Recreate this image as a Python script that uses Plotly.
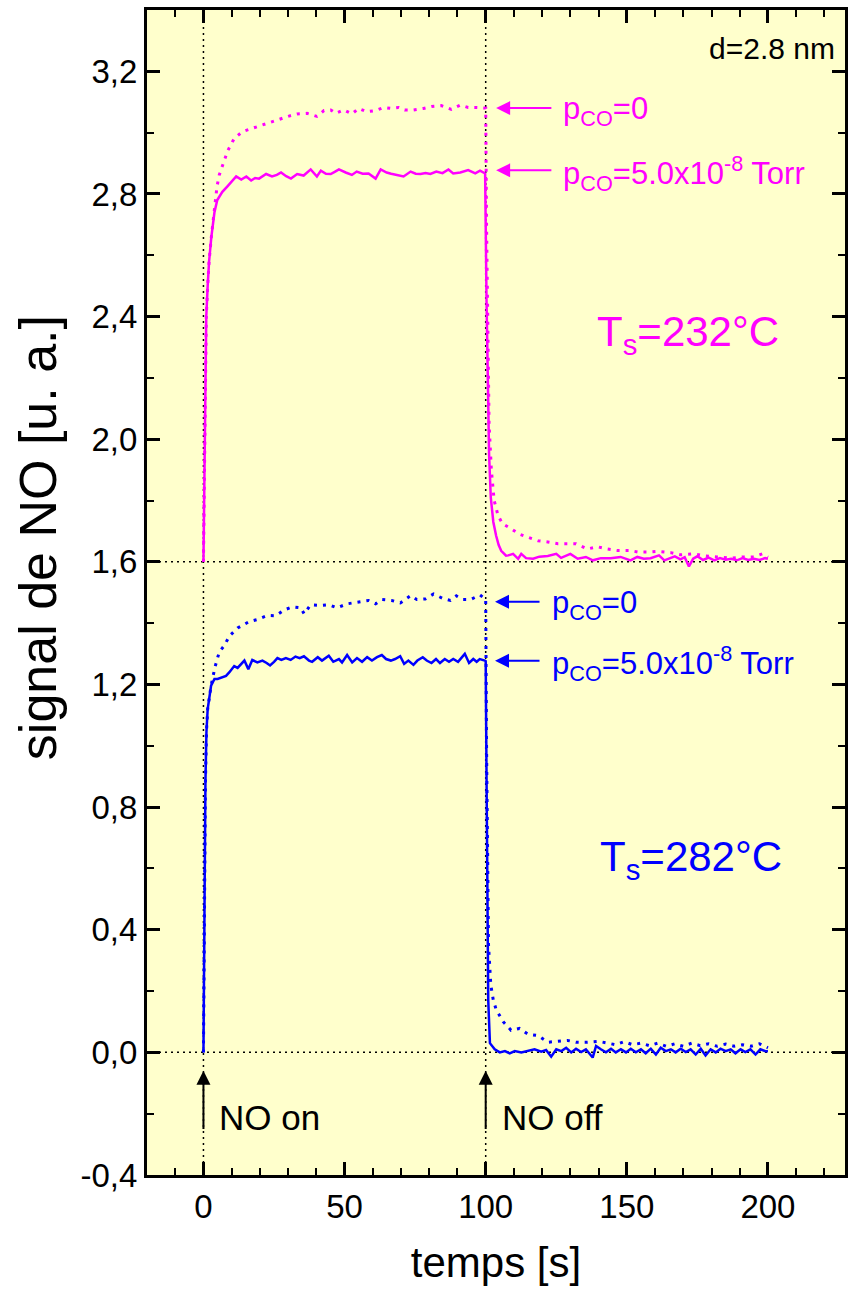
import plotly.graph_objects as go

# ---------------- data ----------------
# magenta, T_s = 232 °C, p_CO = 5.0x10^-8 Torr (solid)
t_mag_co = [0, 0.3, 0.6, 1.0, 1.5, 2.0, 2.8, 3.9, 4.9, 6.7, 8.5, 10, 11.6, 13.4, 15.2, 16.9, 18.3,
            19.7, 21, 22.2, 24.3, 26, 27.5, 29.3, 31, 33.2, 35.5, 38, 40.2, 41.6, 43.4, 45.1, 46.5,
            48, 50.4, 52.6, 54.3, 56.4, 58.5, 61, 62.8, 64.9, 66.5, 68.1, 70.9, 73.4, 75.2, 76.9,
            78.7, 80.4, 82.5, 84.7, 86.8, 88.5, 91, 93.8, 96.3, 98, 99.8,
            100.3, 100.7, 101.2, 101.8, 102.7, 103.7, 104.6, 105.5, 107.2, 108, 109.7, 111.5, 112.6,
            114.3, 116.8, 119, 122, 125, 126.7, 130, 132.6, 135.5, 138, 140.8, 144.3, 147.8, 151.3,
            153.7, 156, 158.4, 161.4, 163.3, 165, 167, 169, 170.5, 172, 173.5, 175, 177, 179, 181,
            183, 185, 187, 189, 191, 193, 195, 197, 199, 200]
s_mag_co = [1.6, 1.9, 2.2, 2.4, 2.5, 2.58, 2.66, 2.74, 2.78, 2.807, 2.825, 2.84, 2.857, 2.847, 2.857,
            2.844, 2.852, 2.85, 2.858, 2.865, 2.857, 2.862, 2.87, 2.858, 2.85, 2.865, 2.86, 2.88,
            2.857, 2.876, 2.866, 2.865, 2.872, 2.88, 2.87, 2.862, 2.873, 2.866, 2.867, 2.85, 2.88,
            2.87, 2.866, 2.862, 2.857, 2.873, 2.866, 2.865, 2.868, 2.865, 2.873, 2.868, 2.88, 2.867,
            2.87, 2.878, 2.867, 2.876, 2.867,
            2.45, 2.15, 1.95, 1.81, 1.73, 1.685, 1.655, 1.636, 1.62, 1.621, 1.626, 1.61, 1.626,
            1.612, 1.61, 1.617, 1.619, 1.626, 1.613, 1.626, 1.61, 1.616, 1.605, 1.612, 1.612, 1.616,
            1.605, 1.616, 1.61, 1.612, 1.621, 1.605, 1.612, 1.618, 1.608, 1.615, 1.585, 1.61, 1.618,
            1.606, 1.614, 1.605, 1.612, 1.607, 1.61, 1.605, 1.612, 1.606, 1.61, 1.606, 1.612, 1.61]

# magenta, p_CO = 0 (dotted)
t_mag_0 = [0, 0.3, 0.6, 1.0, 1.5, 2.0, 2.8, 3.9, 4.8, 5.6, 7.2, 8.6, 10.9, 13.8, 17.3, 20.8, 24,
           27.5, 30.3, 33.2, 36.7, 40.2, 42.7, 45.1, 46.9, 49.7, 52.6, 55, 57.8, 61, 63.8, 66.3,
           69.1, 71.3, 74.4, 78, 80.8, 84.3, 87.8, 91, 93.8, 96.7, 99.1, 100.0,
           100.3, 100.7, 101.2, 102, 103, 104.4, 106, 109, 112, 115, 118.5, 122, 125.6, 129, 132,
           136, 139.7, 143, 146.7, 151, 154, 158, 161, 165.6, 169, 173.8, 177, 182, 186.7, 191.4,
           195, 198, 200]
s_mag_0 = [1.6, 1.9, 2.2, 2.4, 2.5, 2.58, 2.66, 2.74, 2.824, 2.862, 2.902, 2.941, 2.981, 3.003,
           3.014, 3.025, 3.036, 3.047, 3.054, 3.061, 3.063, 3.053, 3.072, 3.074, 3.063, 3.074,
           3.061, 3.079, 3.068, 3.072, 3.082, 3.079, 3.082, 3.074, 3.074, 3.079, 3.085, 3.088,
           3.076, 3.09, 3.082, 3.082, 3.082, 3.08,
           2.7, 2.35, 2.05, 1.9, 1.8, 1.75, 1.724, 1.708, 1.69, 1.68, 1.669, 1.665, 1.659, 1.659,
           1.659, 1.642, 1.649, 1.642, 1.637, 1.637, 1.632, 1.632, 1.634, 1.63, 1.623, 1.626, 1.62,
           1.616, 1.612, 1.616, 1.616, 1.626, 1.615]

# blue, T_s = 282 °C, p_CO = 5.0x10^-8 Torr (solid)
t_blue_co = [0, 0.35, 0.7, 1.06, 1.5, 2.7, 3.9, 5.0, 6.7, 8.0, 9.2, 10.9, 12.1, 13.3, 14.5, 15.9,
             17.3, 19.1, 20.9, 22.4, 23.6, 25, 26.2, 27.6, 29.2, 30.9, 32.6, 34.1, 35.6, 37.4, 38.5,
             40.5, 42, 44.4, 46, 48, 49.1, 50.9, 52.7, 54.4, 56.2, 58, 59.7, 61.5, 63.2, 64.7, 66.4,
             67.9, 69.7, 71.1, 72.6, 74.4, 75.8, 77.7, 79.1, 80.8, 82.4, 83.8, 85.5, 87, 88.5, 90.2,
             92.6, 94.1, 95.6, 96.8, 97.9, 99.7, 100.0,
             100.3, 100.6, 100.9, 101.5, 103.2, 105, 106.8, 108.5, 110.3, 112.6, 115, 117.3, 119.7,
             121.4, 123.2, 125, 126.8, 128.5, 130.3, 132, 133.8, 135.5, 137.9, 139.1, 140.8, 142.6,
             144.4, 146.1, 147.9, 149.7, 151.4, 153.2, 155, 156.7, 158.5, 160.3, 162, 163.8, 165.6,
             167.3, 169.1, 170.9, 172.6, 174.4, 176.2, 177.9, 179.7, 181.5, 183.2, 185, 186.8,
             188.5, 190.3, 192, 193.8, 195.6, 197.3, 199.1, 200]
s_blue_co = [0, 0.555, 0.88, 1.045, 1.12, 1.196, 1.218, 1.218, 1.224, 1.228, 1.24, 1.26, 1.254,
             1.265, 1.278, 1.25, 1.28, 1.272, 1.278, 1.27, 1.262, 1.274, 1.286, 1.28, 1.286, 1.28,
             1.291, 1.286, 1.292, 1.278, 1.274, 1.289, 1.278, 1.294, 1.274, 1.283, 1.272, 1.296,
             1.272, 1.286, 1.274, 1.289, 1.278, 1.289, 1.296, 1.283, 1.278, 1.283, 1.292, 1.267,
             1.278, 1.264, 1.278, 1.289, 1.278, 1.27, 1.283, 1.27, 1.283, 1.274, 1.283, 1.274, 1.3,
             1.27, 1.283, 1.274, 1.283, 1.278, 1.276,
             0.9, 0.45, 0.17, 0.03, 0.01, 0.0, 0.004, -0.003, 0.004, 0.0, 0.004, 0.01, 0.002, 0.008,
             -0.014, 0.01, 0.004, 0.015, 0.0, 0.012, 0.001, 0.01, -0.017, 0.021, 0.01, 0.0, 0.012,
             0.0, 0.01, 0.0, 0.012, 0.0, 0.01, -0.003, 0.012, -0.007, 0.015, 0.004, 0.01, 0.0,
             0.012, 0.001, 0.01, -0.007, 0.012, -0.01, 0.01, 0.0, 0.012, 0.004, 0.01, -0.003, 0.01,
             0.001, 0.01, -0.007, 0.01, 0.004, 0.004]

# blue, p_CO = 0 (dotted)
t_blue_0 = [0, 0.35, 0.7, 1.06, 1.5, 2.7, 4.1, 5.6, 7.4, 9.2, 12.1, 16.2, 19.1, 22.6, 25.6, 28.6,
            31.5, 34.5, 35.7, 38, 41.6, 44.5, 47.3, 50.9, 54.3, 58.5, 61, 63.2, 66.7, 69.8, 73.4,
            75.6, 78.6, 81.5, 85, 87.5, 89.6, 92, 94.6, 98, 99.8, 100.0,
            100.3, 100.6, 101, 101.8, 102.7, 103.7, 106.2, 109, 112, 115, 118.5, 122, 125.6, 129,
            132, 136, 140, 143, 146, 149, 152, 155, 158, 161, 164, 167, 170, 173, 176, 179, 182,
            185, 188, 191, 194, 197, 200]
s_blue_0 = [0, 0.555, 0.88, 1.045, 1.12, 1.196, 1.257, 1.306, 1.327, 1.358, 1.384, 1.405, 1.412,
            1.425, 1.424, 1.443, 1.453, 1.45, 1.43, 1.46, 1.458, 1.46, 1.45, 1.463, 1.469, 1.474,
            1.463, 1.477, 1.474, 1.466, 1.49, 1.477, 1.479, 1.495, 1.48, 1.474, 1.489, 1.477, 1.477,
            1.492, 1.479, 1.479,
            1.0, 0.6, 0.35, 0.22, 0.17, 0.14, 0.10, 0.072, 0.078, 0.059, 0.055, 0.033, 0.036,
            0.039, 0.033, 0.033, 0.036, 0.03, 0.025, 0.035, 0.025, 0.03, 0.022, 0.03, 0.02, 0.028,
            0.02, 0.03, 0.022, 0.028, 0.02, 0.027, 0.02, 0.025, 0.02, 0.028, 0.015]

x_ticks = [0, 50, 100, 150, 200]
y_ticks = [-0.4, 0.0, 0.4, 0.8, 1.2, 1.6, 2.0, 2.4, 2.8, 3.2]

MAG = "#FF00FF"
BLUE = "#0000FF"
FONT = "Arial, Liberation Sans, sans-serif"

fig = go.Figure()
fig.add_trace(go.Scatter(x=t_mag_0, y=s_mag_0, mode="lines",
                         line=dict(color=MAG, width=3, dash="3px,6px")))
fig.add_trace(go.Scatter(x=t_mag_co, y=s_mag_co, mode="lines",
                         line=dict(color=MAG, width=2.5)))
fig.add_trace(go.Scatter(x=t_blue_0, y=s_blue_0, mode="lines",
                         line=dict(color=BLUE, width=3, dash="3px,6px")))
fig.add_trace(go.Scatter(x=t_blue_co, y=s_blue_co, mode="lines",
                         line=dict(color=BLUE, width=2.5)))

# dotted reference lines
for xv in [0, 100]:
    fig.add_shape(type="line", xref="x", yref="paper", x0=xv, x1=xv, y0=0, y1=1,
                  line=dict(color="black", width=1.5, dash="2px,4px"), layer="below")
for yv in [0.0, 1.6]:
    fig.add_shape(type="line", xref="paper", yref="y", x0=0, x1=1, y0=yv, y1=yv,
                  line=dict(color="black", width=1.5, dash="2px,4px"), layer="below")

ann = []
# left-pointing arrows
for (tip, tail, yv, col) in [(103.7, 123.8, 3.08, MAG), (103.7, 123.8, 2.877, MAG),
                             (103.3, 119.6, 1.47, BLUE), (103.3, 119.6, 1.277, BLUE)]:
    ann.append(dict(x=tip, y=yv, ax=tail, ay=yv, axref="x", ayref="y", xref="x", yref="y",
                    text="", showarrow=True, arrowhead=2, arrowsize=1.4, arrowwidth=2,
                    arrowcolor=col))
PS = 31
ann += [
    dict(x=126.6, y=3.08, text="p<sub>CO</sub>=0", xanchor="left", yanchor="middle",
         font=dict(color=MAG, size=PS, family=FONT), showarrow=False, yshift=-3),
    dict(x=126.6, y=2.877, text="p<sub>CO</sub>=5.0x10<sup>-8</sup> Torr", xanchor="left",
         yanchor="middle", font=dict(color=MAG, size=PS, family=FONT), showarrow=False, yshift=-3),
    dict(x=122.8, y=1.47, text="p<sub>CO</sub>=0", xanchor="left", yanchor="middle",
         font=dict(color=BLUE, size=PS, family=FONT), showarrow=False, yshift=-3),
    dict(x=122.8, y=1.277, text="p<sub>CO</sub>=5.0x10<sup>-8</sup> Torr", xanchor="left",
         yanchor="middle", font=dict(color=BLUE, size=PS, family=FONT), showarrow=False, yshift=-3),
    dict(x=171.6, y=2.34, text="T<sub>s</sub>=232°C", xanchor="center", yanchor="middle",
         font=dict(color=MAG, size=42, family=FONT), showarrow=False),
    dict(x=172.8, y=0.63, text="T<sub>s</sub>=282°C", xanchor="center", yanchor="middle",
         font=dict(color=BLUE, size=42, family=FONT), showarrow=False),
    dict(x=0.988, y=0.983, xref="paper", yref="paper", text="d=2.8 nm", xanchor="right",
         yanchor="top", font=dict(color="black", size=30, family=FONT), showarrow=False),
    dict(x=4.9, y=-0.212, text="NO on", xanchor="left", yanchor="middle",
         font=dict(color="black", size=35, family=FONT), showarrow=False),
    dict(x=105.2, y=-0.212, text="NO off", xanchor="left", yanchor="middle",
         font=dict(color="black", size=35, family=FONT), showarrow=False),
    # y-axis title
    dict(x=-0.157, y=0.547, xref="paper", yref="paper", text="signal de NO [u. a.]",
         textangle=-90, xanchor="center", yanchor="middle",
         font=dict(color="black", size=52, family=FONT), showarrow=False),
]
for xv in [0, 100]:
    ann.append(dict(x=xv, y=-0.06, ax=xv, ay=-0.255, axref="x", ayref="y", xref="x", yref="y",
                    text="", showarrow=True, arrowhead=2, arrowsize=1.4, arrowwidth=2,
                    arrowcolor="black"))

fig.update_layout(
    width=850, height=1289,
    margin=dict(l=147, r=2, t=10, b=114),
    paper_bgcolor="white", plot_bgcolor="#FFFFCC",
    showlegend=False, separators=",.",
    font=dict(family=FONT, color="black"),
    annotations=ann,
)
fig.update_xaxes(
    range=[-20, 227.3], tickvals=x_ticks, ticktext=[str(v) for v in x_ticks],
    showgrid=False, zeroline=False,
    showline=True, linecolor="black", linewidth=3, mirror="ticks",
    ticks="inside", ticklen=13, tickwidth=2.5, tickcolor="black",
    minor=dict(ticks="inside", ticklen=7, tickwidth=2, tickcolor="black", dtick=10, tick0=0),
    tickfont=dict(size=33, family=FONT),
    title=dict(text="temps [s]", font=dict(size=42, family=FONT), standoff=25),
)
fig.update_yaxes(
    range=[-0.4, 3.4], tickvals=y_ticks, ticktext=[f"{v:.1f}".replace(".", ",") for v in y_ticks],
    showgrid=False, zeroline=False,
    showline=True, linecolor="black", linewidth=3, mirror="ticks",
    ticks="inside", ticklen=13, tickwidth=2.5, tickcolor="black",
    minor=dict(ticks="inside", ticklen=7, tickwidth=2, tickcolor="black", dtick=0.2, tick0=0),
    tickfont=dict(size=33, family=FONT),
)

fig.write_html("out.html")
